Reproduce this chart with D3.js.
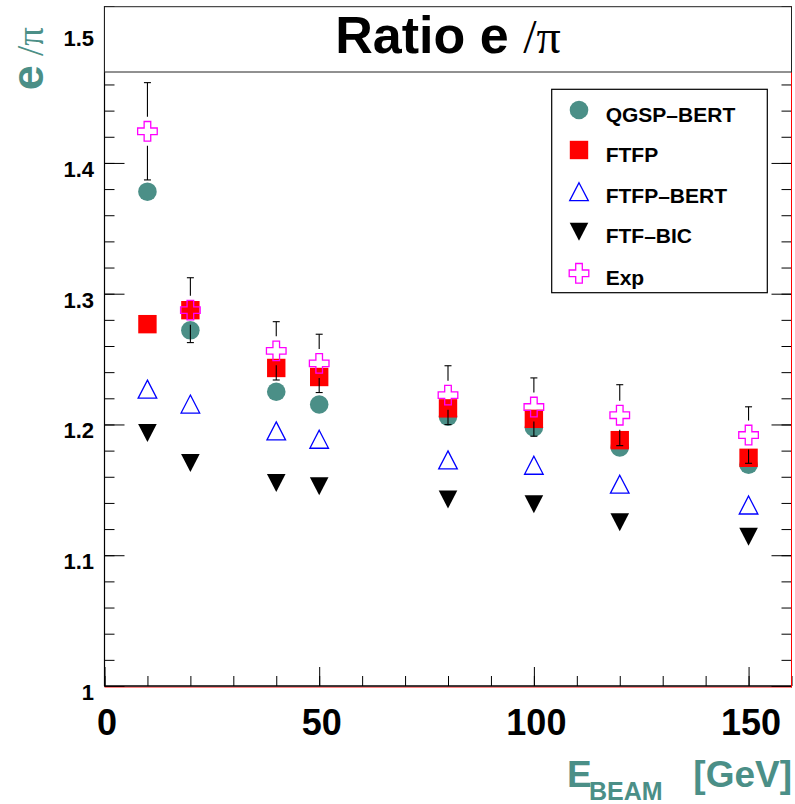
<!DOCTYPE html>
<html>
<head>
<meta charset="utf-8">
<script src="https://cdn.jsdelivr.net/npm/d3@7"></script>
<style>
  html, body { margin: 0; padding: 0; background: #fff; }
  svg { display: block; }
</style>
</head>
<body>
<svg id="chart" width="795" height="804"></svg>
<script>
// ---------------- data ----------------
const energies   = [10, 20, 40, 50, 80, 100, 120, 150];
const qgspBert   = [1.378, 1.272, 1.225, 1.2153, 1.206, 1.1977, 1.1825, 1.1692];
const ftfp       = [1.2767, 1.2874, 1.2432, 1.2363, 1.2123, 1.2043, 1.1880, 1.1745];
const ftfpBert   = [1.2270, 1.2156, 1.1951, 1.1887, 1.1729, 1.1688, 1.1543, 1.1384];
const ftfBic     = [1.1934, 1.1705, 1.1553, 1.1528, 1.1426, 1.1390, 1.1252, 1.1141];
const expData    = [1.4242, 1.2874, 1.2563, 1.2467, 1.2224, 1.2133, 1.2071, 1.1919];
const expErr     = [0.0372, 0.0248, 0.0223, 0.0223, 0.0225, 0.0223, 0.0233, 0.0216];
const legendLabels = ["QGSP\u2013BERT", "FTFP", "FTFP\u2013BERT", "FTF\u2013BIC", "Exp"];
const xMajorTicks = [0, 50, 100, 150];
const yMajorTicks = [1, 1.1, 1.2, 1.3, 1.4, 1.5];
const xDomain = [0, 160];
const yDomain = [1, 1.52];

(function () {
// ---------------- setup ----------------
const teal = "#4b8f87";
const svg = d3.select("#chart");
const pLeft = 104.5, pRight = 791.5, pBottom = 686, pTop = 6;
const x = d3.scaleLinear().domain(xDomain).range([pLeft, pRight]);
const y = d3.scaleLinear().domain(yDomain).range([pBottom, pTop]);

const xMinor = d3.range(0, 161, 10);
const yMinor = d3.range(0, 27).map(i => +(1 + i * 0.02).toFixed(2));

// axes: minor ticks
svg.append("g").attr("transform", `translate(0,${pBottom})`)
  .call(d3.axisBottom(x).tickValues(xMinor).tickSize(-10).tickFormat(""))
  .call(g => g.select(".domain").remove());
svg.append("g").attr("transform", `translate(${pLeft},0)`)
  .call(d3.axisLeft(y).tickValues(yMinor).tickSize(-10).tickFormat(""))
  .call(g => g.select(".domain").remove());
svg.append("g").attr("transform", `translate(${pRight},0)`)
  .call(d3.axisRight(y).tickValues(yMinor).tickSize(-10).tickFormat(""))
  .call(g => g.select(".domain").remove());

// axes: major ticks with labels
svg.append("g").attr("transform", `translate(0,${pBottom})`)
  .call(d3.axisBottom(x).tickValues(xMajorTicks).tickSize(-19).tickFormat(d3.format("d")))
  .call(g => g.select(".domain").remove())
  .call(g => g.selectAll("text")
    .attr("y", 49).attr("dy", 0).attr("dx", 2)
    .attr("fill", "#000")
    .style("font-family", "'Liberation Sans', Arial, sans-serif")
    .style("font-weight", "bold").style("font-size", "36px"));
svg.append("g").attr("transform", `translate(${pLeft},0)`)
  .call(d3.axisLeft(y).tickValues(yMajorTicks).tickSize(-20).tickPadding(10.5)
    .tickFormat(d => d === 1 ? "1" : d3.format(".1f")(d)))
  .call(g => g.select(".domain").remove())
  .call(g => g.selectAll("text")
    .attr("dy", 13.5)
    .attr("fill", "#000")
    .style("font-family", "'Liberation Sans', Arial, sans-serif")
    .style("font-weight", "bold").style("font-size", "22px"));
svg.append("g").attr("transform", `translate(${pRight},0)`)
  .call(d3.axisRight(y).tickValues(yMajorTicks).tickSize(-20).tickFormat(""))
  .call(g => g.select(".domain").remove());

svg.selectAll(".tick line").attr("stroke", "#000").attr("stroke-width", 1);

// frame lines
svg.append("line").attr("x1", pLeft).attr("x2", pRight + 0.5).attr("y1", pBottom + 1.1).attr("y2", pBottom + 1.1)
  .attr("stroke", "#ff0000").attr("stroke-width", 0.8);
svg.append("line").attr("x1", pLeft).attr("x2", pLeft).attr("y1", pTop).attr("y2", pBottom)
  .attr("stroke", "#000").attr("stroke-width", 1.2);
svg.append("line").attr("x1", pLeft).attr("x2", pRight).attr("y1", pBottom).attr("y2", pBottom)
  .attr("stroke", "#000").attr("stroke-width", 1.4);
svg.append("line").attr("x1", pRight).attr("x2", pRight).attr("y1", pTop).attr("y2", pBottom + 1.5)
  .attr("stroke", "#ff0000").attr("stroke-width", 1);

// ---------------- marker shapes ----------------
function squarePath(cx, cy, s) {
  return `M${cx - s},${cy - s}H${cx + s}V${cy + s}H${cx - s}Z`;
}
function triUpPath(cx, cy, w, h) {
  return `M${cx},${cy - h}L${cx + w},${cy + h}L${cx - w},${cy + h}Z`;
}
function triDownPath(cx, cy, w, h) {
  return `M${cx - w},${cy - h}L${cx + w},${cy - h}L${cx},${cy + h}Z`;
}
function crossPath(cx, cy, h, a) {
  return `M${cx - a},${cy - h}L${cx + a},${cy - h}L${cx + a},${cy - a}L${cx + h},${cy - a}` +
         `L${cx + h},${cy + a}L${cx + a},${cy + a}L${cx + a},${cy + h}L${cx - a},${cy + h}` +
         `L${cx - a},${cy + a}L${cx - h},${cy + a}L${cx - h},${cy - a}L${cx - a},${cy - a}Z`;
}

const plot = svg.append("g");

// QGSP-BERT circles
plot.selectAll(".qgsp").data(energies).enter().append("circle")
  .attr("cx", (d) => x(d)).attr("cy", (d, i) => y(qgspBert[i])).attr("r", 9.3)
  .attr("fill", teal);
// FTFP squares
plot.selectAll(".ftfp").data(energies).enter().append("path")
  .attr("d", (d, i) => squarePath(x(d), y(ftfp[i]), 9.2))
  .attr("fill", "#ff0000");
// FTFP-BERT open triangles
plot.selectAll(".ftfpb").data(energies).enter().append("path")
  .attr("d", (d, i) => triUpPath(x(d), y(ftfpBert[i]), 9.3, 9))
  .attr("fill", "none").attr("stroke", "#0000ff").attr("stroke-width", 1.3);
// FTF-BIC filled down triangles
plot.selectAll(".ftfbic").data(energies).enter().append("path")
  .attr("d", (d, i) => triDownPath(x(d), y(ftfBic[i]), 9.3, 9))
  .attr("fill", "#000");

// Exp error bars (with gap around marker)
const gap = 14.5;
energies.forEach((e, i) => {
  const cx = x(e), cy = y(expData[i]);
  const eTop = y(expData[i] + expErr[i]), eBot = y(expData[i] - expErr[i]);
  const g = plot.append("g").attr("stroke", "#000").attr("stroke-width", 1.1);
  if (cy - gap > eTop) g.append("line").attr("x1", cx).attr("x2", cx).attr("y1", eTop).attr("y2", cy - gap);
  if (cy + gap < eBot) g.append("line").attr("x1", cx).attr("x2", cx).attr("y1", cy + gap).attr("y2", eBot);
  g.append("line").attr("x1", cx - 3.5).attr("x2", cx + 3.5).attr("y1", eTop).attr("y2", eTop);
  g.append("line").attr("x1", cx - 3.5).attr("x2", cx + 3.5).attr("y1", eBot).attr("y2", eBot);
});
// Exp crosses
plot.selectAll(".exp").data(energies).enter().append("path")
  .attr("d", (d, i) => crossPath(x(d), y(expData[i]), 9.8, 3.3))
  .attr("fill", "none").attr("stroke", "#ff00ff").attr("stroke-width", 1.3);

// ---------------- title box ----------------
svg.append("rect").attr("x", pLeft).attr("y", 6.7).attr("width", pRight - pLeft).attr("height", 65.3)
  .attr("fill", "#fff").attr("stroke", "#222").attr("stroke-width", 1);
const title = svg.append("text").attr("x", (pLeft + pRight) / 2).attr("y", 52.5)
  .attr("text-anchor", "middle").attr("fill", "#000");
title.append("tspan").text("Ratio e ")
  .style("font-family", "'Liberation Sans', Arial, sans-serif").style("font-weight", "bold").style("font-size", "52px");
title.append("tspan").text("/\u03c0")
  .style("font-family", "'Liberation Serif', 'Times New Roman', serif").style("font-size", "48px");

// ---------------- legend ----------------
const lg = svg.append("g");
lg.append("rect").attr("x", 551.7).attr("y", 89.3).attr("width", 215.6).attr("height", 203.4)
  .attr("fill", "#fff").attr("stroke", "#000").attr("stroke-width", 1.2);
const rowsY = [110, 150, 191.7, 231.7, 273.3];
const mx = 579;
lg.append("circle").attr("cx", mx).attr("cy", rowsY[0]).attr("r", 9.3).attr("fill", teal);
lg.append("path").attr("d", squarePath(mx, rowsY[1], 9.2)).attr("fill", "#ff0000");
lg.append("path").attr("d", triUpPath(mx, rowsY[2], 9.3, 9)).attr("fill", "none").attr("stroke", "#0000ff").attr("stroke-width", 1.3);
lg.append("path").attr("d", triDownPath(mx, rowsY[3], 9.3, 9)).attr("fill", "#000");
lg.append("path").attr("d", crossPath(mx, rowsY[4], 9.8, 3.3)).attr("fill", "none").attr("stroke", "#ff00ff").attr("stroke-width", 1.3);
lg.selectAll(".lt").data(legendLabels).enter().append("text")
  .attr("x", 605.7).attr("y", (d, i) => rowsY[i] + 11.5)
  .text(d => d)
  .style("font-family", "'Liberation Sans', Arial, sans-serif").style("font-weight", "bold").style("font-size", "21px")
  .attr("fill", "#000");

// ---------------- axis titles ----------------
const yTitle = svg.append("text").attr("transform", "translate(43,27) rotate(-90)")
  .attr("text-anchor", "end").attr("fill", teal);
yTitle.append("tspan").text("e")
  .style("font-family", "'Liberation Sans', Arial, sans-serif").style("font-weight", "bold").style("font-size", "45px");
yTitle.append("tspan").text(" /\u03c0")
  .style("font-family", "'Liberation Serif', 'Times New Roman', serif").style("font-size", "37px");

const xTitle = svg.append("g").attr("fill", teal)
  .style("font-family", "'Liberation Sans', Arial, sans-serif").style("font-weight", "bold");
xTitle.append("text").attr("x", 567).attr("y", 786.5).style("font-size", "37px").text("E");
xTitle.append("text").attr("x", 589).attr("y", 800).style("font-size", "25px").text("BEAM");
xTitle.append("text").attr("x", 792).attr("y", 786.5).attr("text-anchor", "end").style("font-size", "37px").text("[GeV]");
})();
</script>
</body>
</html>
